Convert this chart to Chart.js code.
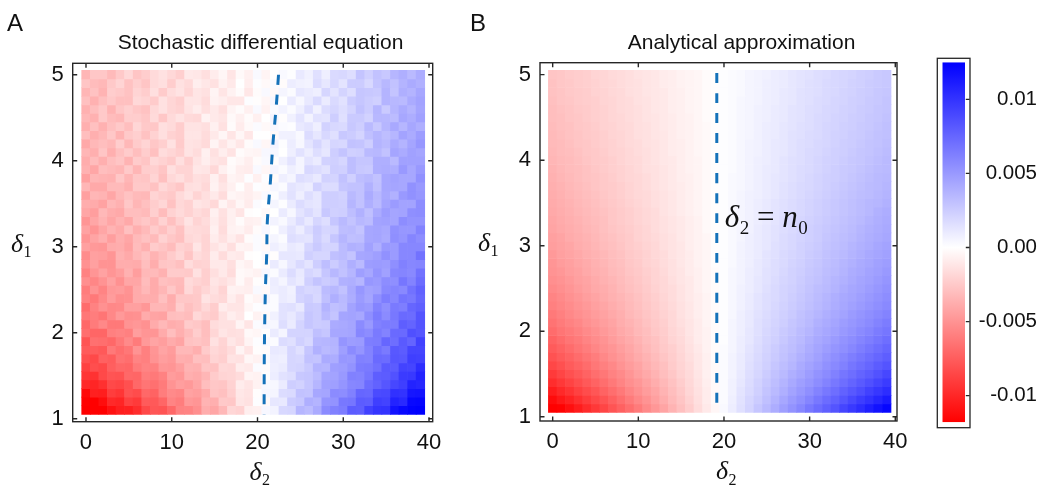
<!DOCTYPE html>
<html>
<head>
<meta charset="utf-8">
<script src="https://cdn.jsdelivr.net/npm/chart.js@4.4.1/dist/chart.umd.min.js"></script>
<style>
  html, body { margin: 0; padding: 0; background: #ffffff; }
  #wrap { position: relative; width: 1044px; height: 492px; overflow: hidden; background: #ffffff; }
  #wrap canvas { position: absolute; top: 0; }
</style>
</head>
<body>
<div id="wrap">
  <canvas id="panelA" width="466" height="492" style="left:0px"></canvas>
  <canvas id="panelB" width="466" height="492" style="left:466px"></canvas>
  <canvas id="colorbar" width="144" height="492" style="left:900px"></canvas>
</div>
<script>
// ---------------- data ----------------
// grid coordinates (cell centres)
const delta2Values = [0,1,2,3,4,5,6,7,8,9,10,11,12,13,14,15,16,17,18,19,20,21,22,23,24,25,26,27,28,29,30,31,32,33,34,35,36,37,38,39];
const delta1Values = [1.1,1.2,1.3,1.4,1.5,1.6,1.7,1.8,1.9,2.0,2.1,2.2,2.3,2.4,2.5,2.6,2.7,2.8,2.9,3.0,3.1,3.2,3.3,3.4,3.5,3.6,3.7,3.8,3.9,4.0,4.1,4.2,4.3,4.4,4.5,4.6,4.7,4.8,4.9,5.0];

// axis ticks
const axisTicksX = [0, 10, 20, 30, 40];
const axisTicksY = [1, 2, 3, 4, 5];
const colorbarTicks = [-0.01, -0.005, 0, 0.005, 0.01];
const colorbarTickLabels = ['-0.01', '-0.005', '0.00', '0.005', '0.01'];
const colorLimits = [-0.0118, 0.0125];

// cell values are stored in units of 1e-4
const VALUE_UNIT = 1e-4;

// stochastic differential equation: rows from delta1 = 1.1 (bottom) to 5.0 (top), columns delta2 = 0..39
const sdeRows = [
  [-128,-130,-121,-110,-104,-103,-97,-84,-78,-79,-70,-58,-57,-52,-38,-41,-33,-19,-21,-8,-7,4,6,19,20,36,33,41,57,62,64,80,79,93,99,100,116,121,124,130],
  [-117,-119,-112,-99,-101,-88,-91,-76,-77,-71,-57,-60,-47,-49,-35,-37,-25,-26,-12,-14,1,-3,12,11,25,27,39,37,52,53,66,67,80,79,94,92,108,105,121,122],
  [-114,-103,-104,-90,-93,-80,-83,-70,-72,-60,-54,-56,-43,-45,-39,-27,-29,-22,-11,-13,-1,4,5,17,18,30,29,43,44,57,56,62,75,74,88,89,101,100,114,115],
  [-99,-101,-96,-84,-86,-81,-70,-64,-66,-61,-50,-45,-47,-41,-30,-26,-27,-21,-9,-12,-6,3,4,10,24,22,28,36,46,47,52,59,60,72,77,83,90,94,108,106],
  [-93,-95,-84,-79,-80,-70,-71,-60,-62,-58,-46,-48,-37,-39,-34,-24,-20,-19,-16,-5,-6,-1,9,14,16,27,28,33,44,45,50,62,61,67,79,80,85,96,97,108],
  [-88,-82,-84,-74,-70,-71,-61,-57,-58,-48,-49,-44,-35,-36,-27,-28,-18,-19,-9,-10,2,-2,8,10,20,21,26,37,36,47,48,53,64,65,70,81,80,92,91,103],
  [-81,-84,-73,-75,-65,-67,-57,-59,-50,-45,-47,-37,-38,-29,-30,-20,-22,-13,-14,-4,-6,3,9,8,20,19,30,29,41,40,51,50,62,61,73,72,83,82,94,93],
  [-76,-75,-77,-62,-67,-63,-50,-59,-49,-42,-46,-33,-33,-37,-24,-18,-21,-16,-5,-12,-1,-2,11,10,20,15,28,38,34,36,47,57,52,61,70,65,82,80,91,91],
  [-79,-66,-67,-70,-62,-54,-61,-47,-42,-45,-39,-42,-28,-27,-29,-14,-20,-11,-15,-5,1,3,2,17,15,23,19,35,36,37,52,48,49,63,64,75,71,81,76,93],
  [-67,-71,-71,-59,-57,-59,-45,-49,-49,-39,-30,-37,-31,-23,-30,-19,-12,-15,-14,-3,-4,-1,10,5,21,21,21,31,28,43,43,44,59,56,65,61,73,73,86,83],
  [-70,-61,-55,-62,-62,-50,-48,-51,-39,-33,-38,-36,-24,-26,-30,-16,-14,-14,-5,-12,2,4,4,16,10,21,28,25,26,41,42,44,57,50,62,64,64,79,76,84],
  [-63,-60,-64,-55,-47,-52,-51,-39,-42,-43,-30,-29,-31,-18,-22,-24,-14,-8,-11,0,-6,-3,7,14,11,17,28,25,34,29,44,45,43,55,64,57,66,73,72,84],
  [-68,-58,-51,-55,-54,-44,-44,-48,-34,-34,-37,-23,-29,-25,-18,-23,-9,-12,-12,-4,1,2,2,14,15,11,26,25,37,31,33,45,51,49,61,55,65,63,75,78],
  [-58,-62,-54,-46,-52,-51,-39,-38,-38,-29,-38,-26,-26,-25,-13,-16,-18,-8,-13,-2,-5,5,2,10,8,21,24,19,31,39,34,40,49,44,55,63,59,68,66,75],
  [-60,-50,-57,-47,-46,-50,-39,-33,-39,-34,-26,-33,-18,-24,-19,-14,-20,-6,-7,-8,3,-3,8,10,7,22,19,20,33,35,30,41,51,45,47,58,60,58,69,77],
  [-52,-56,-50,-43,-51,-41,-41,-31,-39,-29,-31,-32,-17,-20,-22,-12,-15,-11,-3,-9,-1,2,9,5,13,10,23,29,25,27,38,39,36,51,49,56,55,67,61,72],
  [-58,-49,-43,-49,-45,-36,-45,-33,-32,-36,-24,-24,-25,-14,-22,-15,-10,-16,-3,-4,-6,4,2,10,17,11,20,17,28,35,30,36,47,43,52,46,59,60,58,69],
  [-51,-44,-50,-50,-38,-38,-39,-30,-38,-27,-26,-29,-16,-21,-20,-10,-10,-15,-4,-7,0,-2,10,4,12,18,13,24,32,25,31,39,34,48,49,48,55,62,59,60],
  [-53,-44,-45,-49,-36,-40,-33,-28,-35,-30,-24,-19,-27,-16,-19,-9,-16,-9,-10,-1,0,3,-1,12,12,11,23,20,20,31,33,29,43,44,47,54,49,59,59,69],
  [-44,-47,-48,-39,-38,-43,-31,-36,-24,-27,-31,-21,-23,-12,-20,-13,-9,-15,-5,-6,2,-3,8,5,11,9,20,26,21,21,33,38,37,46,39,50,49,59,59,59],
  [-49,-42,-37,-45,-37,-41,-32,-28,-32,-21,-26,-29,-18,-16,-20,-9,-14,-8,-13,-2,2,-2,5,2,16,14,13,24,18,28,36,31,32,43,44,41,55,52,60,56],
  [-43,-49,-41,-35,-39,-29,-37,-32,-24,-29,-22,-28,-16,-17,-18,-7,-16,-6,-5,-9,-2,4,0,8,14,9,17,25,20,21,32,33,29,43,44,42,54,51,51,61],
  [-49,-41,-35,-41,-35,-40,-29,-26,-30,-21,-29,-21,-13,-20,-16,-9,-15,-7,-2,-7,-6,2,6,3,10,17,11,20,16,28,34,29,35,33,45,46,44,56,53,53],
  [-41,-45,-33,-38,-40,-30,-30,-32,-22,-31,-21,-17,-21,-16,-19,-7,-14,-7,-12,-1,0,-3,0,10,4,13,18,13,27,23,24,32,38,31,41,48,44,45,55,56],
  [-38,-39,-43,-33,-36,-26,-34,-29,-23,-19,-28,-18,-21,-12,-14,-18,-5,-11,-4,-9,2,0,5,1,10,17,13,12,24,24,23,36,30,39,34,44,49,45,45,56],
  [-44,-34,-35,-41,-33,-28,-32,-33,-20,-23,-25,-17,-13,-20,-15,-10,-16,-4,-6,-8,-5,3,1,8,14,8,16,12,24,24,22,34,30,41,35,42,38,50,54,51],
  [-34,-40,-40,-32,-32,-36,-25,-25,-28,-18,-22,-26,-15,-14,-18,-6,-12,-7,-1,-8,1,-2,4,2,13,11,9,22,17,17,28,30,30,38,31,43,44,43,54,50],
  [-44,-34,-35,-36,-26,-34,-26,-27,-20,-29,-18,-15,-20,-15,-16,-7,-15,-5,-7,1,-7,1,-2,8,5,16,14,11,22,21,30,23,32,34,30,43,45,43,43,54],
  [-36,-41,-30,-32,-34,-25,-34,-23,-22,-27,-15,-20,-20,-11,-12,-18,-7,-3,-8,-9,3,-4,5,2,8,5,19,17,14,24,23,32,27,26,39,40,39,50,43,50],
  [-38,-31,-37,-30,-27,-35,-24,-27,-18,-21,-24,-15,-22,-13,-8,-12,-14,-2,-4,-8,-2,3,-1,7,13,5,13,10,22,23,20,32,28,28,39,39,34,46,46,46],
  [-34,-37,-27,-37,-29,-24,-30,-23,-29,-16,-19,-22,-13,-16,-7,-14,-8,-13,-2,-4,-5,4,4,0,8,14,9,16,12,24,29,23,24,34,35,30,44,41,46,44],
  [-40,-33,-30,-33,-23,-33,-24,-20,-26,-22,-14,-24,-13,-14,-17,-5,-12,-6,-11,-2,3,-4,6,1,9,4,13,20,13,20,19,30,29,24,37,34,41,37,44,51],
  [-30,-37,-33,-26,-35,-25,-22,-28,-21,-15,-21,-23,-12,-12,-16,-10,-4,-12,-4,-11,0,0,-3,7,7,3,17,12,19,15,27,25,21,31,36,32,36,45,41,48],
  [-37,-29,-36,-29,-25,-30,-19,-25,-26,-15,-17,-23,-13,-13,-15,-7,-14,-2,-9,-3,2,-3,4,2,1,11,13,8,22,19,18,27,24,34,27,36,42,36,43,39],
  [-33,-36,-25,-31,-33,-23,-23,-26,-17,-26,-17,-13,-17,-18,-6,-10,-12,-3,-7,-2,-7,0,5,-1,7,13,6,14,13,24,15,26,26,22,35,35,33,43,40,46],
  [-36,-30,-25,-35,-26,-22,-26,-28,-18,-14,-19,-21,-13,-9,-15,-10,-15,-5,-2,-7,3,-6,2,6,2,8,16,7,17,20,16,21,30,25,36,26,36,41,37,44],
  [-29,-36,-29,-25,-29,-29,-18,-20,-24,-14,-19,-22,-12,-12,-16,-6,-8,-11,-11,1,-1,-4,4,0,10,4,11,18,10,18,14,25,28,25,23,37,35,34,41,45],
  [-34,-28,-35,-23,-25,-28,-20,-23,-15,-24,-16,-13,-19,-12,-14,-5,-12,-6,-2,-11,-2,3,-3,5,2,12,10,8,20,13,21,16,28,27,26,37,29,39,37,43],
  [-27,-31,-33,-25,-20,-28,-22,-27,-17,-15,-23,-14,-17,-8,-11,-14,-6,-10,0,-8,1,-3,2,-2,9,7,6,17,12,19,13,25,25,19,29,35,30,37,41,38],
  [-34,-26,-26,-32,-25,-18,-27,-23,-17,-14,-18,-22,-10,-11,-15,-9,-4,-12,-3,-7,3,-5,0,3,1,11,7,15,8,18,19,16,29,23,30,27,36,39,34,40]
];

// analytical approximation: same grid and units
const approxRows = [
  [-124,-117,-111,-105,-98,-92,-86,-79,-73,-67,-61,-54,-48,-42,-35,-29,-23,-16,-10,-4,3,9,15,21,28,34,40,47,53,59,66,72,78,84,91,97,103,110,116,122],
  [-113,-107,-102,-96,-90,-84,-79,-73,-67,-61,-55,-50,-44,-38,-32,-27,-21,-15,-9,-3,2,8,14,20,25,31,37,43,49,54,60,66,72,77,83,89,95,100,106,112],
  [-105,-99,-94,-88,-83,-78,-72,-67,-62,-56,-51,-46,-41,-35,-30,-25,-19,-14,-9,-3,2,7,13,18,23,29,34,39,45,50,55,61,66,71,77,82,87,93,98,103],
  [-97,-92,-87,-82,-77,-72,-67,-62,-57,-52,-48,-43,-38,-33,-28,-23,-18,-13,-8,-3,2,7,12,17,22,27,32,37,42,47,51,56,61,66,71,76,81,86,91,96],
  [-91,-86,-81,-77,-72,-67,-63,-58,-54,-49,-44,-40,-35,-30,-26,-21,-17,-12,-7,-3,2,6,11,16,20,25,30,34,39,43,48,53,57,62,67,71,76,80,85,90],
  [-85,-81,-76,-72,-68,-63,-59,-55,-50,-46,-42,-37,-33,-29,-24,-20,-16,-11,-7,-3,2,6,10,15,19,23,28,32,36,41,45,49,54,58,62,67,71,75,80,84],
  [-80,-76,-72,-68,-64,-60,-55,-51,-47,-43,-39,-35,-31,-27,-23,-19,-15,-11,-7,-2,2,6,10,14,18,22,26,30,34,38,42,46,51,55,59,63,67,71,75,79],
  [-76,-72,-68,-64,-60,-56,-52,-49,-45,-41,-37,-33,-29,-25,-22,-18,-14,-10,-6,-2,2,5,9,13,17,21,25,29,32,36,40,44,48,52,55,59,63,67,71,75],
  [-72,-68,-64,-61,-57,-53,-50,-46,-42,-39,-35,-31,-28,-24,-20,-17,-13,-9,-6,-2,1,5,9,12,16,20,23,27,31,34,38,42,45,49,53,56,60,63,67,71],
  [-68,-64,-61,-58,-54,-51,-47,-44,-40,-37,-33,-30,-26,-23,-19,-16,-12,-9,-6,-2,1,5,8,12,15,19,22,26,29,33,36,40,43,46,50,53,57,60,64,67],
  [-65,-61,-58,-55,-51,-48,-45,-42,-38,-35,-32,-28,-25,-22,-18,-15,-12,-9,-5,-2,1,5,8,11,15,18,21,24,28,31,34,38,41,44,48,51,54,57,61,64],
  [-62,-59,-55,-52,-49,-46,-43,-40,-37,-33,-30,-27,-24,-21,-18,-14,-11,-8,-5,-2,1,4,8,11,14,17,20,23,26,30,33,36,39,42,45,49,52,55,58,61],
  [-59,-56,-53,-50,-47,-44,-41,-38,-35,-32,-29,-26,-23,-20,-17,-14,-11,-8,-5,-2,1,4,7,10,13,16,19,22,25,28,31,34,37,40,43,46,49,52,55,58],
  [-57,-54,-51,-48,-45,-42,-39,-36,-34,-31,-28,-25,-22,-19,-16,-13,-10,-8,-5,-2,1,4,7,10,13,16,18,21,24,27,30,33,36,39,42,44,47,50,53,56],
  [-54,-52,-49,-46,-43,-40,-38,-35,-32,-29,-27,-24,-21,-18,-16,-13,-10,-7,-4,-2,1,4,7,9,12,15,18,21,23,26,29,32,34,37,40,43,45,48,51,54],
  [-52,-50,-47,-44,-42,-39,-36,-34,-31,-28,-26,-23,-20,-18,-15,-12,-10,-7,-4,-2,1,4,6,9,12,14,17,20,22,25,28,30,33,36,38,41,44,46,49,52],
  [-50,-48,-45,-43,-40,-37,-35,-32,-30,-27,-25,-22,-20,-17,-14,-12,-9,-7,-4,-2,1,4,6,9,11,14,16,19,22,24,27,29,32,34,37,40,42,45,47,50],
  [-49,-46,-44,-41,-39,-36,-34,-31,-29,-26,-24,-21,-19,-16,-14,-11,-9,-6,-4,-1,1,3,6,8,11,13,16,18,21,23,26,28,31,33,36,38,41,43,46,48],
  [-47,-44,-42,-40,-37,-35,-33,-30,-28,-25,-23,-21,-18,-16,-13,-11,-9,-6,-4,-1,1,3,6,8,10,13,15,18,20,22,25,27,30,32,34,37,39,42,44,46],
  [-45,-43,-41,-38,-36,-34,-31,-29,-27,-24,-22,-20,-18,-15,-13,-11,-8,-6,-4,-1,1,3,6,8,10,12,15,17,19,22,24,26,29,31,33,36,38,40,43,45],
  [-44,-42,-39,-37,-35,-33,-30,-28,-26,-24,-21,-19,-17,-15,-13,-10,-8,-6,-4,-1,1,3,5,8,10,12,14,17,19,21,23,25,28,30,32,34,37,39,41,43],
  [-42,-40,-38,-36,-34,-32,-29,-27,-25,-23,-21,-19,-16,-14,-12,-10,-8,-6,-3,-1,1,3,5,7,10,12,14,16,18,20,23,25,27,29,31,33,36,38,40,42],
  [-41,-39,-37,-35,-33,-31,-29,-26,-24,-22,-20,-18,-16,-14,-12,-10,-8,-6,-3,-1,1,3,5,7,9,11,13,16,18,20,22,24,26,28,30,32,34,37,39,41],
  [-40,-38,-36,-34,-32,-30,-28,-26,-24,-22,-20,-18,-16,-13,-11,-9,-7,-5,-3,-1,1,3,5,7,9,11,13,15,17,19,21,23,25,27,29,31,33,35,38,40],
  [-39,-37,-35,-33,-31,-29,-27,-25,-23,-21,-19,-17,-15,-13,-11,-9,-7,-5,-3,-1,1,3,5,7,9,11,13,15,17,19,21,23,25,27,29,31,33,35,36,38],
  [-38,-36,-34,-32,-30,-28,-26,-24,-22,-20,-18,-17,-15,-13,-11,-9,-7,-5,-3,-1,1,3,5,7,8,10,12,14,16,18,20,22,24,26,28,30,32,33,35,37],
  [-37,-35,-33,-31,-29,-27,-25,-24,-22,-20,-18,-16,-14,-12,-10,-9,-7,-5,-3,-1,1,3,4,6,8,10,12,14,16,18,19,21,23,25,27,29,31,33,34,36],
  [-36,-34,-32,-30,-28,-27,-25,-23,-21,-19,-18,-16,-14,-12,-10,-8,-7,-5,-3,-1,1,3,4,6,8,10,12,13,15,17,19,21,23,24,26,28,30,32,34,35],
  [-35,-33,-31,-30,-28,-26,-24,-22,-21,-19,-17,-15,-14,-12,-10,-8,-6,-5,-3,-1,1,2,4,6,8,10,11,13,15,17,18,20,22,24,26,27,29,31,33,34],
  [-34,-32,-31,-29,-27,-25,-24,-22,-20,-18,-17,-15,-13,-11,-10,-8,-6,-5,-3,-1,1,2,4,6,8,9,11,13,15,16,18,20,22,23,25,27,28,30,32,34],
  [-33,-31,-30,-28,-26,-25,-23,-21,-20,-18,-16,-15,-13,-11,-9,-8,-6,-4,-3,-1,1,2,4,6,7,9,11,12,14,16,18,19,21,23,24,26,28,29,31,33],
  [-32,-31,-29,-27,-26,-24,-22,-21,-19,-17,-16,-14,-13,-11,-9,-8,-6,-4,-3,-1,1,2,4,6,7,9,11,12,14,16,17,19,20,22,24,25,27,29,30,32],
  [-32,-30,-28,-27,-25,-24,-22,-20,-19,-17,-15,-14,-12,-11,-9,-7,-6,-4,-3,-1,1,2,4,5,7,9,10,12,14,15,17,18,20,22,23,25,26,28,30,31],
  [-31,-29,-28,-26,-25,-23,-21,-20,-18,-17,-15,-14,-12,-10,-9,-7,-6,-4,-3,-1,1,2,4,5,7,9,10,12,13,15,16,18,20,21,23,24,26,27,29,31],
  [-30,-29,-27,-26,-24,-22,-21,-19,-18,-16,-15,-13,-12,-10,-9,-7,-6,-4,-2,-1,1,2,4,5,7,8,10,11,13,14,16,18,19,21,22,24,25,27,28,30],
  [-30,-28,-27,-25,-24,-22,-21,-19,-17,-16,-15,-13,-11,-10,-8,-7,-5,-4,-2,-1,1,2,4,5,7,8,10,11,13,14,16,17,19,20,22,23,25,26,28,29],
  [-29,-27,-26,-24,-23,-22,-20,-19,-17,-16,-14,-13,-11,-10,-8,-7,-5,-4,-2,-1,1,2,4,5,6,8,9,11,12,14,15,17,18,20,21,23,24,26,27,29],
  [-28,-27,-25,-24,-23,-21,-20,-18,-17,-15,-14,-12,-11,-10,-8,-7,-5,-4,-2,-1,1,2,3,5,6,8,9,11,12,14,15,16,18,19,21,22,24,25,27,28],
  [-28,-26,-25,-23,-22,-21,-19,-18,-16,-15,-14,-12,-11,-9,-8,-6,-5,-4,-2,-1,1,2,3,5,6,8,9,10,12,13,15,16,18,19,20,22,23,25,26,27],
  [-27,-26,-24,-23,-22,-20,-19,-17,-16,-15,-13,-12,-11,-9,-8,-6,-5,-4,-2,-1,1,2,3,5,6,7,9,10,12,13,14,16,17,19,20,21,23,24,26,27]
];

// zero-crossing curve of the simulated field (delta2, delta1), top to bottom
const sdeBoundaryDelta2 = [22.45, 22.2, 21.8, 21.5, 21.15, 21.07, 20.92, 20.8, 20.77];
const sdeBoundaryDelta1 = [5.0, 4.65, 4.2, 3.75, 3.3, 2.9, 2.5, 1.8, 1.05];
// delta2 = n0 line of the analytical panel
const n0Value = 19.16;
const n0LineDelta1 = [5.02, 1.05];

// ---------------- helpers ----------------
const SANS = '"Liberation Sans", Arial, sans-serif';
const SERIF = '"Liberation Serif", "Times New Roman", serif';
const TEXT = '#111111';

function valueColor(v) {
  let r, g, b;
  if (v >= 0) {
    const t = Math.min(v / colorLimits[1], 1);
    r = g = Math.round(255 * (1 - t)); b = 255;
  } else {
    const t = Math.min(v / colorLimits[0], 1);
    r = 255; g = b = Math.round(255 * (1 - t));
  }
  return `rgb(${r},${g},${b})`;
}

function buildCells(rows) {
  const half = (delta1Values[1] - delta1Values[0]) / 2;
  const points = [], colors = [];
  rows.forEach((row, i) => {
    row.forEach((v, j) => {
      points.push({ x: delta2Values[j], y: [delta1Values[i] - half, delta1Values[i] + half] });
      colors.push(valueColor(v * VALUE_UNIT));
    });
  });
  return { points, colors };
}

// italic symbol with an upright subscript
function drawSubscripted(ctx, base, sub, x, y, size, align) {
  const big = `italic ${size}px ${SERIF}`;
  const small = `${Math.round(size * 0.62)}px ${SERIF}`;
  ctx.font = big; const w1 = ctx.measureText(base).width;
  ctx.font = small; const w2 = ctx.measureText(sub).width;
  const x0 = align === 'center' ? x - (w1 + w2) / 2 : x;
  ctx.textAlign = 'left'; ctx.textBaseline = 'alphabetic';
  ctx.font = big; ctx.fillText(base, x0, y);
  ctx.font = small; ctx.fillText(sub, x0 + w1 + 0.5, y + size * 0.22);
  return x0 + w1 + 0.5 + w2;
}

// frame, inward ticks and panel texts
const panelDecor = {
  id: 'panelDecor',
  afterDatasetsDraw(chart, args, opts) {
    const { ctx, chartArea: a, scales: { x, y } } = chart;
    ctx.save();
    ctx.strokeStyle = '#262626';
    ctx.lineWidth = 1.4;
    ctx.strokeRect(a.left, a.top, a.right - a.left, a.bottom - a.top);
    ctx.beginPath();
    x.ticks.forEach(t => {
      const px = x.getPixelForValue(t.value);
      ctx.moveTo(px, a.bottom); ctx.lineTo(px, a.bottom - 4.5);
      ctx.moveTo(px, a.top); ctx.lineTo(px, a.top + 4.5);
    });
    y.ticks.forEach(t => {
      const py = y.getPixelForValue(t.value);
      ctx.moveTo(a.left, py); ctx.lineTo(a.left + 4.5, py);
      ctx.moveTo(a.right, py); ctx.lineTo(a.right - 4.5, py);
    });
    ctx.stroke();
    ctx.restore();
  },
  afterDraw(chart, args, opts) {
    const { ctx, chartArea: a, scales: { x, y } } = chart;
    ctx.save();
    ctx.fillStyle = TEXT;
    // panel letter
    ctx.font = `24px ${SANS}`;
    ctx.textAlign = 'left'; ctx.textBaseline = 'alphabetic';
    ctx.fillText(opts.letter, opts.letterX, 31);
    // panel title
    ctx.font = `21px ${SANS}`;
    ctx.textAlign = 'center';
    ctx.fillText(opts.title, opts.titleX, 49);
    // axis titles
    drawSubscripted(ctx, 'δ', '2', x.getPixelForValue(20) + 2, a.bottom + 58, 26, 'center');
    drawSubscripted(ctx, 'δ', '1', opts.yTitleX, y.getPixelForValue(3) + 5, 26, 'left');
    // optional annotation
    if (opts.note) {
      const nx = x.getPixelForValue(opts.note.x);
      const ny = y.getPixelForValue(opts.note.y);
      let cx = drawSubscripted(ctx, 'δ', '2', nx, ny, 31, 'left');
      ctx.font = `31px ${SERIF}`;
      ctx.fillText(' = ', cx, ny);
      cx += ctx.measureText(' = ').width;
      drawSubscripted(ctx, 'n', '0', cx, ny, 31, 'left');
    }
    ctx.restore();
  }
};

function makePanel(id, rows, boundary, frame, decor) {
  const cells = buildCells(rows);
  const tickFont = { family: SANS, size: 22 };
  return new Chart(document.getElementById(id), {
    type: 'bar',
    data: {
      datasets: [
        {
          type: 'line',
          data: boundary,
          borderColor: '#1572b9',
          borderWidth: 3,
          borderDash: [10, 10],
          pointRadius: 0,
          tension: 0.35,
          fill: false,
          order: 0
        },
        {
          type: 'bar',
          data: cells.points,
          backgroundColor: cells.colors,
          borderWidth: 0,
          grouped: false,
          barPercentage: 1,
          categoryPercentage: 1,
          order: 1
        }
      ]
    },
    options: {
      responsive: false,
      animation: false,
      devicePixelRatio: 1,
      events: [],
      layout: { padding: frame.padding },
      plugins: { legend: { display: false }, tooltip: { enabled: false }, panelDecor: decor },
      scales: {
        x: {
          type: 'linear', min: frame.xMin, max: frame.xMax, offset: false,
          grid: { display: false, drawTicks: false }, border: { display: false },
          afterBuildTicks: s => { s.ticks = axisTicksX.map(v => ({ value: v })); },
          afterFit: s => { s.height = 40; },
          ticks: { font: tickFont, color: TEXT, padding: 8, maxRotation: 0, autoSkip: false }
        },
        y: {
          type: 'linear', min: frame.yMin, max: frame.yMax,
          grid: { display: false, drawTicks: false }, border: { display: false },
          afterBuildTicks: s => { s.ticks = axisTicksY.map(v => ({ value: v })); },
          afterFit: s => { s.width = 60; },
          ticks: { font: tickFont, color: TEXT, padding: 9, autoSkip: false }
        }
      }
    },
    plugins: [panelDecor]
  });
}

// ---------------- panels ----------------
makePanel('panelA', sdeRows,
  sdeBoundaryDelta2.map((v, i) => ({ x: v, y: sdeBoundaryDelta1[i] })),
  { padding: { left: 12.7, top: 63.3, right: 33.3, bottom: 30.3 }, xMin: -1.55, xMax: 40.43, yMin: 0.965, yMax: 5.133 },
  { letter: 'A', letterX: 7, title: 'Stochastic differential equation', titleX: 260.5, yTitleX: 11 });

makePanel('panelB', approxRows,
  n0LineDelta1.map(v => ({ x: n0Value, y: v })),
  { padding: { left: 14, top: 62.7, right: 35, bottom: 31 }, xMin: -1.48, xMax: 40.2, yMin: 0.95, yMax: 5.14 },
  { letter: 'B', letterX: 4, title: 'Analytical approximation', titleX: 275.5, yTitleX: 12,
    note: { x: 20.1, y: 3.22 } });

// ---------------- colour bar ----------------
const colorbarDecor = {
  id: 'colorbarDecor',
  afterDatasetsDraw(chart) {
    const { ctx, chartArea: a, scales: { y } } = chart;
    ctx.save();
    ctx.strokeStyle = '#262626';
    ctx.lineWidth = 1.3;
    ctx.strokeRect(a.left - 5, a.top - 4, (a.right - a.left) + 10, (a.bottom - a.top) + 9.4);
    ctx.beginPath();
    y.ticks.forEach(t => {
      const py = y.getPixelForValue(t.value);
      ctx.moveTo(a.right + 0.8, py); ctx.lineTo(a.right + 4.6, py);
    });
    ctx.stroke();
    ctx.restore();
  }
};

new Chart(document.getElementById('colorbar'), {
  type: 'bar',
  data: {
    datasets: [{
      data: [{ x: 0, y: colorLimits }],
      backgroundColor: c => {
        const { chart } = c;
        const { ctx, chartArea, scales } = chart;
        if (!chartArea) return '#ffffff';
        const y0 = scales.y.getPixelForValue(colorLimits[0]);
        const y1 = scales.y.getPixelForValue(colorLimits[1]);
        const g = ctx.createLinearGradient(0, y0, 0, y1);
        g.addColorStop(0, valueColor(colorLimits[0]));
        g.addColorStop((0 - colorLimits[0]) / (colorLimits[1] - colorLimits[0]), valueColor(0));
        g.addColorStop(1, valueColor(colorLimits[1]));
        return g;
      },
      borderWidth: 0,
      grouped: false,
      barPercentage: 1,
      categoryPercentage: 1,
      inflateAmount: 0
    }]
  },
  options: {
    responsive: false,
    animation: false,
    devicePixelRatio: 1,
    events: [],
    layout: { padding: { left: 42.3, top: 62.3, right: 7, bottom: 69.7 } },
    plugins: { legend: { display: false }, tooltip: { enabled: false } },
    scales: {
      x: {
        type: 'linear', display: false, min: -0.5, max: 0.5, offset: false,
        afterBuildTicks: s => { s.ticks = [{ value: 0 }]; }
      },
      y: {
        type: 'linear', position: 'right', min: colorLimits[0], max: colorLimits[1],
        grid: { display: false, drawTicks: false }, border: { display: false },
        afterBuildTicks: s => { s.ticks = colorbarTicks.map(v => ({ value: v })); },
        afterFit: s => { s.width = 72; },
        ticks: {
          callback: (v, i) => colorbarTickLabels[i],
          crossAlign: 'far', padding: 13.5, autoSkip: false,
          font: { family: SANS, size: 20.5 }, color: TEXT
        }
      }
    }
  },
  plugins: [colorbarDecor]
});
</script>
</body>
</html>
